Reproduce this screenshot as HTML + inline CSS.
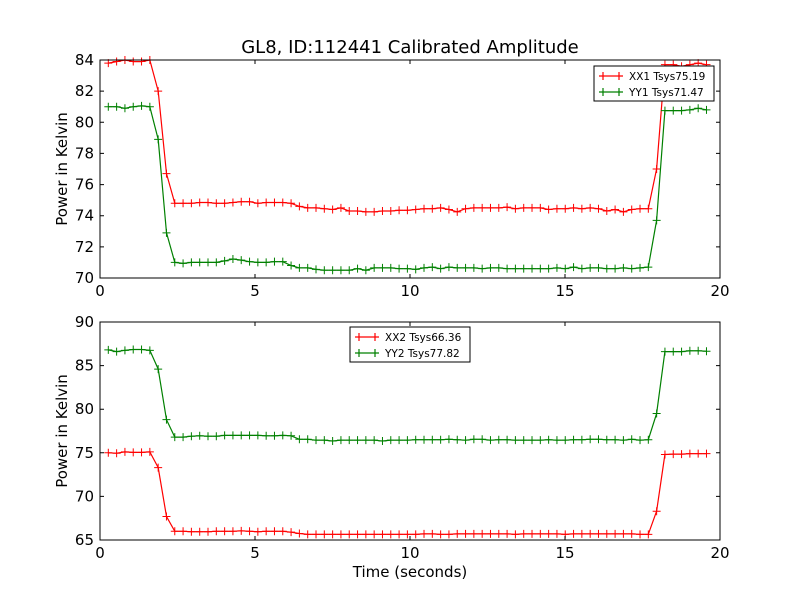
<!DOCTYPE html>
<html><head><meta charset="utf-8">
<style>
body{margin:0;background:#fff;}
svg text{font-family:"DejaVu Sans","Liberation Sans",sans-serif;}
</style></head>
<body>
<svg id="chart" width="800" height="600" xmlns="http://www.w3.org/2000/svg">
<rect width="800" height="600" fill="#fff"/>
<text x="410" y="53" font-size="18" text-anchor="middle">GL8, ID:112441 Calibrated Amplitude</text>
</svg>
<script>
// shared time base: 73 samples
const sampleCount = 73;
const sampleStep = 0.268;
const xx1 = [83.8,83.9,84.0,83.9,83.9,84.0,82.0,76.7,74.8,74.8,74.8,74.85,74.85,74.8,74.8,74.85,74.9,74.9,74.8,74.85,74.85,74.85,74.8,74.6,74.5,74.5,74.45,74.4,74.5,74.3,74.3,74.25,74.25,74.3,74.3,74.35,74.35,74.4,74.45,74.45,74.5,74.4,74.25,74.45,74.5,74.5,74.5,74.5,74.55,74.45,74.5,74.5,74.5,74.4,74.45,74.45,74.5,74.45,74.5,74.45,74.3,74.4,74.25,74.4,74.45,74.45,77.0,83.7,83.7,83.6,83.7,83.8,83.7];
const yy1 = [81.0,81.0,80.9,81.0,81.05,81.0,78.9,72.9,71.0,70.94,71.0,71.0,71.0,71.0,71.1,71.22,71.15,71.05,71.0,71.0,71.05,71.05,70.8,70.65,70.65,70.55,70.5,70.5,70.5,70.5,70.6,70.5,70.65,70.65,70.65,70.6,70.6,70.55,70.65,70.7,70.6,70.7,70.65,70.65,70.65,70.6,70.65,70.65,70.6,70.6,70.6,70.6,70.6,70.6,70.65,70.6,70.7,70.6,70.65,70.65,70.6,70.6,70.65,70.6,70.65,70.7,73.7,80.75,80.75,80.75,80.8,80.9,80.8];
const xx2 = [75.0,74.95,75.1,75.05,75.05,75.1,73.3,67.7,66.0,66.0,65.95,65.95,65.95,66.0,66.0,66.0,66.05,66.0,65.95,66.0,66.0,66.0,65.9,65.75,65.65,65.65,65.65,65.65,65.65,65.65,65.65,65.65,65.65,65.65,65.65,65.65,65.65,65.65,65.7,65.7,65.65,65.65,65.7,65.7,65.7,65.7,65.7,65.7,65.7,65.65,65.7,65.7,65.7,65.7,65.7,65.65,65.7,65.7,65.7,65.7,65.7,65.7,65.7,65.7,65.65,65.65,68.3,74.8,74.85,74.85,74.9,74.9,74.9];
const yy2 = [86.8,86.6,86.75,86.85,86.85,86.75,84.6,78.8,76.8,76.8,76.9,76.95,76.9,76.9,77.0,77.0,77.0,77.0,77.0,76.95,76.95,77.0,76.95,76.55,76.55,76.45,76.45,76.35,76.45,76.45,76.45,76.45,76.45,76.35,76.45,76.45,76.45,76.5,76.5,76.5,76.5,76.55,76.5,76.45,76.55,76.55,76.45,76.5,76.5,76.45,76.45,76.45,76.45,76.5,76.45,76.45,76.5,76.5,76.55,76.55,76.5,76.5,76.45,76.55,76.45,76.5,79.5,86.6,86.6,86.6,86.7,86.7,86.65];
const xTicks = [0,5,10,15,20];
const topYTicks = [70,72,74,76,78,80,82,84];
const botYTicks = [65,70,75,80,85,90];
const legendTop = ["XX1 Tsys75.19","YY1 Tsys71.47"];
const legendBot = ["XX2 Tsys66.36","YY2 Tsys77.82"];

const NS="http://www.w3.org/2000/svg";
const svg=document.getElementById('chart');
function mk(tag,attrs,parent){const e=document.createElementNS(NS,tag);for(const k in attrs)e.setAttribute(k,attrs[k]);(parent||svg).appendChild(e);return e;}
const times=[];for(let i=0;i<sampleCount;i++)times.push(sampleStep*(i+1));

function panel(name,top,bottom,ymin,ymax,yTicks,series,colors,legend,legBox,showXLabel){
  const L=100,R=720;
  const xs=t=>L+(t-0)/(20-0)*(R-L);
  const ys=v=>bottom-(v-ymin)/(ymax-ymin)*(bottom-top);
  const g=mk('g',{});
  
  
  series.forEach((s,si)=>{
    const pts=s.map((v,i)=>xs(times[i]).toFixed(1)+','+ys(v).toFixed(1)).join(' ');
    const pl=mk('polyline',{points:pts,fill:'none',stroke:colors[si],'stroke-width':1.2},g);
    
    
    s.forEach((v,i)=>{
      const x=xs(times[i]),y=ys(v);
      const m=mk('path',{d:`M${x-4},${y}H${x+4}M${x},${y-4}V${y+4}`,stroke:colors[si],'stroke-width':1},g);
      
      
    });
  });
  const fr=mk('rect',{x:L,y:top,width:R-L,height:bottom-top,fill:'none',stroke:'#000','stroke-width':1},g);
  
  
  xTicks.forEach(t=>{
    const x=xs(t);
    mk('path',{d:`M${x},${bottom}v-4M${x},${top}v4`,stroke:'#000'},g);
    const tx=mk('text',{x:x,y:bottom+18,'font-size':15,'text-anchor':'middle'},g);
    tx.textContent=t;
    
    
  });
  yTicks.forEach(v=>{
    const y=ys(v);
    mk('path',{d:`M${L},${y}h4M${R},${y}h-4`,stroke:'#000'},g);
    const tx=mk('text',{x:L-6,y:y+5,'font-size':15,'text-anchor':'end'},g);
    tx.textContent=v;
    
    
  });
  const yl=mk('text',{x:0,y:0,'font-size':15,'text-anchor':'middle',transform:`translate(67,${(top+bottom)/2}) rotate(-90)`},g);
  yl.textContent='Power in Kelvin';
  
  
  if(showXLabel){
    const xl=mk('text',{x:410,y:577,'font-size':15,'text-anchor':'middle'},g);
    xl.textContent='Time (seconds)';
    
    
  }
  const lg=mk('g',{},g);
  
  
  mk('rect',{x:legBox[0],y:legBox[1],width:legBox[2],height:35,fill:'#fff',stroke:'#000','stroke-width':1},lg);
  legend.forEach((lab,i)=>{
    const y=legBox[1]+10+i*16;
    const x0=legBox[0]+5;
    mk('path',{d:`M${x0},${y}h24M${x0+4},${y-4}v8M${x0+20},${y-4}v8`,stroke:colors[i],'stroke-width':1.2},lg);
    const tx=mk('text',{x:x0+30,y:y+4,'font-size':10.5},lg);
    tx.textContent=lab;
    
    
  });
}
panel('top-panel',60,278,70,84,topYTicks,[xx1,yy1],['#ff0000','#008000'],legendTop,[594,66,120],false);
panel('bottom-panel',322,540,65,90,botYTicks,[xx2,yy2],['#ff0000','#008000'],legendBot,[350,327,120],true);
</script>
</body></html>
